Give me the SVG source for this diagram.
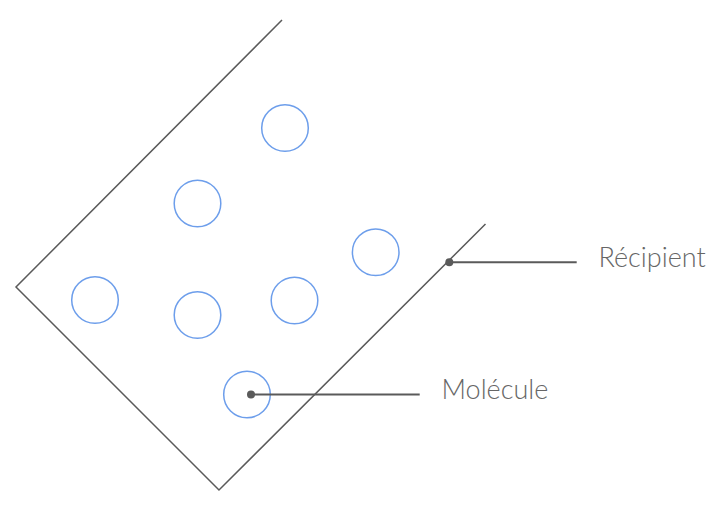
<svg xmlns="http://www.w3.org/2000/svg" width="718" height="505" viewBox="0 0 718 505">
<style>
.mol{fill:none;stroke:#6d9eeb;stroke-width:1.5}
.lead{stroke:#5a5a5a;stroke-width:2}
.dot{fill:#5a5a5a}
.lbl{font-family:Lato,"Liberation Sans",sans-serif;font-weight:300;font-size:27px;fill:#666}
</style>
<rect width="718" height="505" fill="#fff"/>
<g id="recipient">
<polyline points="282,20 16,287 219,490 485.5,224" fill="none" stroke="#5a5a5a" stroke-width="1.5"/>
</g>
<g id="molecules">
<circle class="mol" cx="285" cy="128" r="23.3"/>
<circle class="mol" cx="197.5" cy="203.5" r="23.3"/>
<circle class="mol" cx="95" cy="300" r="23.3"/>
<circle class="mol" cx="197.5" cy="315" r="23.3"/>
<circle class="mol" cx="294.5" cy="300.5" r="23.3"/>
<circle class="mol" cx="375.7" cy="252.3" r="23.3"/>
<circle class="mol" cx="247" cy="394.5" r="23.3"/>
</g>
<g id="connectors">
<line class="lead" x1="449.3" y1="262.3" x2="576.7" y2="262.3"/>
<circle class="dot" cx="449.3" cy="262.3" r="4"/>
<line class="lead" x1="251" y1="394.5" x2="419.7" y2="394.5"/>
<circle class="dot" cx="251" cy="394.5" r="4"/>
</g>
<g id="label-recipient"><text class="lbl" x="598.5" y="266.5">Récipient</text></g>
<g id="label-molecule"><text class="lbl" x="441.5" y="398.5">Molécule</text></g>
</svg>
